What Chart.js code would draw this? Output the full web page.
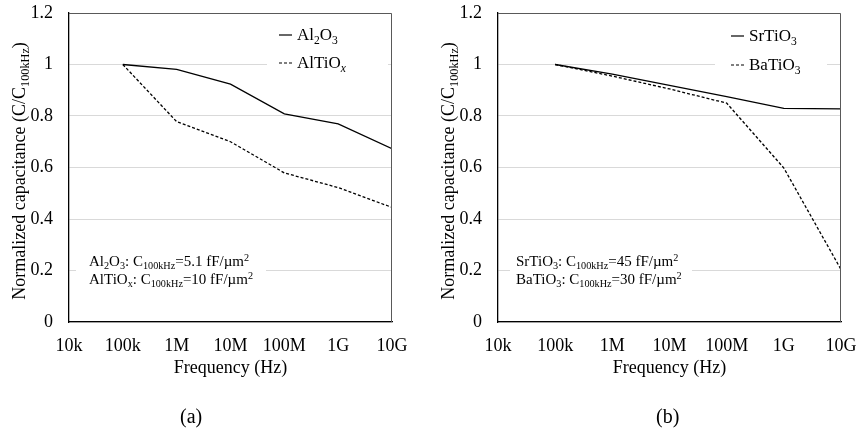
<!DOCTYPE html>
<html>
<head>
<meta charset="utf-8">
<script src="https://cdn.jsdelivr.net/npm/chart.js@4.4.1/dist/chart.umd.min.js"></script>
<style>
  body { margin: 0; background: #fff; width: 858px; height: 435px; overflow: hidden; position: relative; }
  .wrap { position: absolute; top: 0; height: 435px; }
  #wa { left: 0; width: 429px; }
  #wb { left: 429px; width: 429px; }
  .cap { position: absolute; top: 405px; line-height: 24px; font: 20px "Liberation Serif", serif; color: #000; }
</style>
</head>
<body>
<div class="wrap" id="wa"><canvas id="chartA" width="429" height="435"></canvas></div>
<div class="wrap" id="wb"><canvas id="chartB" width="429" height="435"></canvas></div>
<div class="cap" style="left:180px">(a)</div>
<div class="cap" style="left:656px">(b)</div>
<script>
// frequency axis, log10(Hz)
const freqLabels = ['10k', '100k', '1M', '10M', '100M', '1G', '10G'];
const freqExp = [4, 5, 6, 7, 8, 9, 10];
const dataExp = [5, 6, 7, 8, 9, 10];
const yTicks = [0, 0.2, 0.4, 0.6, 0.8, 1, 1.2];

// normalized capacitance C/C100kHz
const al2o3 = [1.0, 0.981, 0.924, 0.808, 0.769, 0.673];
const altiox = [1.0, 0.778, 0.700, 0.579, 0.522, 0.445];
const srtio3 = [1.0, 0.963, 0.919, 0.875, 0.830, 0.828];
const batio3 = [1.0, 0.955, 0.905, 0.850, 0.598, 0.204];

const FONT = '"Liberation Serif", serif';

// draw text runs with subscripts / superscripts
function richWidth(ctx, runs, size) {
  let w = 0;
  runs.forEach(r => {
    const s = r.sub || r.sup ? size * 0.68 : size;
    ctx.font = (r.it ? 'italic ' : '') + s + 'px ' + FONT;
    w += ctx.measureText(r.t).width;
  });
  return w;
}
function richText(ctx, runs, x, y, size) {
  ctx.save();
  ctx.fillStyle = '#000';
  ctx.textBaseline = 'alphabetic';
  ctx.textAlign = 'left';
  runs.forEach(r => {
    const s = r.sub || r.sup ? size * 0.68 : size;
    ctx.font = (r.it ? 'italic ' : '') + s + 'px ' + FONT;
    let dy = 0;
    if (r.sub) dy = size * 0.22;
    if (r.sup) dy = -size * 0.36;
    ctx.fillText(r.t, x, y + dy);
    x += ctx.measureText(r.t).width;
  });
  ctx.restore();
}

const yTitle = [{t: 'Normalized capacitance (C/C'}, {t: '100kHz', sub: true}, {t: ')'}];

function makeChart(id, names, series, legend, notes, padRight) {
  const overlay = {
    id: 'overlay',
    afterDraw(chart) {
      const ctx = chart.ctx;
      const a = chart.chartArea;
      // frame top/right
      ctx.save();
      ctx.strokeStyle = '#595959';
      ctx.lineWidth = 1;
      ctx.beginPath();
      ctx.moveTo(a.left, a.top + 0.5);
      ctx.lineTo(a.right - 0.5, a.top + 0.5);
      ctx.lineTo(a.right - 0.5, a.bottom);
      ctx.stroke();
      ctx.restore();

      // y axis title
      ctx.save();
      ctx.translate(19, 171);
      ctx.rotate(-Math.PI / 2);
      const w = richWidth(ctx, yTitle, 18);
      richText(ctx, yTitle, -w / 2, 6, 18);
      ctx.restore();

      // legend
      const lg = legend;
      ctx.save();
      ctx.fillStyle = '#fff';
      ctx.fillRect(lg.boxL, 20, lg.boxR - lg.boxL, 60);
      ctx.restore();
      names.forEach((n, i) => {
        const cy = lg.y0 + i * lg.dy;
        ctx.save();
        ctx.strokeStyle = '#000';
        ctx.lineWidth = 1.2;
        ctx.setLineDash(i === 0 ? [] : [3, 2]);
        ctx.beginPath();
        ctx.moveTo(lg.x, cy);
        ctx.lineTo(lg.x + 13, cy);
        ctx.stroke();
        ctx.restore();
        richText(ctx, n, lg.x + 18, cy + 5, 17);
      });

      // annotation
      ctx.save();
      ctx.fillStyle = '#fff';
      ctx.fillRect(notes.boxL, 250, notes.boxR - notes.boxL, 40);
      ctx.restore();
      notes.lines.forEach((ln, i) => {
        richText(ctx, ln, notes.x, 266 + i * 18, 15);
      });
    }
  };

  return new Chart(document.getElementById(id), {
    type: 'line',
    data: {
      datasets: series.map((s, i) => ({
        data: dataExp.map((x, k) => ({x: x, y: s[k]})),
        borderColor: '#000',
        borderWidth: 1.3,
        borderDash: i === 0 ? [] : [3, 2],
        pointRadius: 0,
        tension: 0,
        fill: false
      }))
    },
    options: {
      responsive: false,
      animation: false,
      layout: { padding: { top: 13, right: padRight, bottom: 56, left: 0 } },
      plugins: { legend: { display: false }, tooltip: { enabled: false } },
      scales: {
        x: {
          type: 'linear',
          min: freqExp[0],
          max: freqExp[freqExp.length - 1],
          afterBuildTicks: sc => { sc.ticks = freqExp.map(v => ({value: v})); },
          afterFit: sc => { sc.height = 57; sc.paddingLeft = 0; sc.paddingRight = 0; },
          grid: { display: false },
          border: { display: true, color: '#000', width: 1.3 },
          ticks: {
            color: '#000',
            font: { family: FONT, size: 18 },
            padding: 5,
            maxRotation: 0,
            autoSkip: false,
            callback: v => freqLabels[freqExp.indexOf(v)]
          },
          title: {
            display: true,
            text: 'Frequency (Hz)',
            color: '#000',
            font: { family: FONT, size: 18 },
            padding: { top: 0, bottom: 0 }
          }
        },
        y: {
          min: 0,
          max: 1.2,
          afterBuildTicks: sc => { sc.ticks = yTicks.map(v => ({value: v})); },
          afterFit: sc => { sc.width = 69; sc.paddingTop = 0; sc.paddingBottom = 0; },
          grid: { color: '#d9d9d9', lineWidth: 1, drawTicks: false },
          border: { display: true, color: '#000', width: 1.3 },
          ticks: {
            color: '#000',
            font: { family: FONT, size: 18 },
            padding: 16,
            callback: v => String(Math.round(v * 10) / 10)
          }
        }
      }
    },
    plugins: [overlay]
  });
}

makeChart('chartA',
  [[{t: 'Al'}, {t: '2', sub: true}, {t: 'O'}, {t: '3', sub: true}],
   [{t: 'AlTiO'}, {t: 'x', sub: true, it: true}]],
  [al2o3, altiox],
  {x: 279, y0: 35, dy: 28, boxL: 267, boxR: 388},
  {x: 89, boxL: 76, boxR: 266, lines: [
    [{t: 'Al'}, {t: '2', sub: true}, {t: 'O'}, {t: '3', sub: true}, {t: ': C'}, {t: '100kHz', sub: true}, {t: '=5.1 fF/\u00b5m'}, {t: '2', sup: true}],
    [{t: 'AlTiO'}, {t: 'x', sub: true}, {t: ': C'}, {t: '100kHz', sub: true}, {t: '=10 fF/\u00b5m'}, {t: '2', sup: true}]
  ]},
  37);

makeChart('chartB',
  [[{t: 'SrTiO'}, {t: '3', sub: true}],
   [{t: 'BaTiO'}, {t: '3', sub: true}]],
  [srtio3, batio3],
  {x: 302, y0: 36, dy: 29, boxL: 286, boxR: 398},
  {x: 87, boxL: 81, boxR: 263, lines: [
    [{t: 'SrTiO'}, {t: '3', sub: true}, {t: ': C'}, {t: '100kHz', sub: true}, {t: '=45 fF/\u00b5m'}, {t: '2', sup: true}],
    [{t: 'BaTiO'}, {t: '3', sub: true}, {t: ': C'}, {t: '100kHz', sub: true}, {t: '=30 fF/\u00b5m'}, {t: '2', sup: true}]
  ]},
  17);
</script>
</body>
</html>
